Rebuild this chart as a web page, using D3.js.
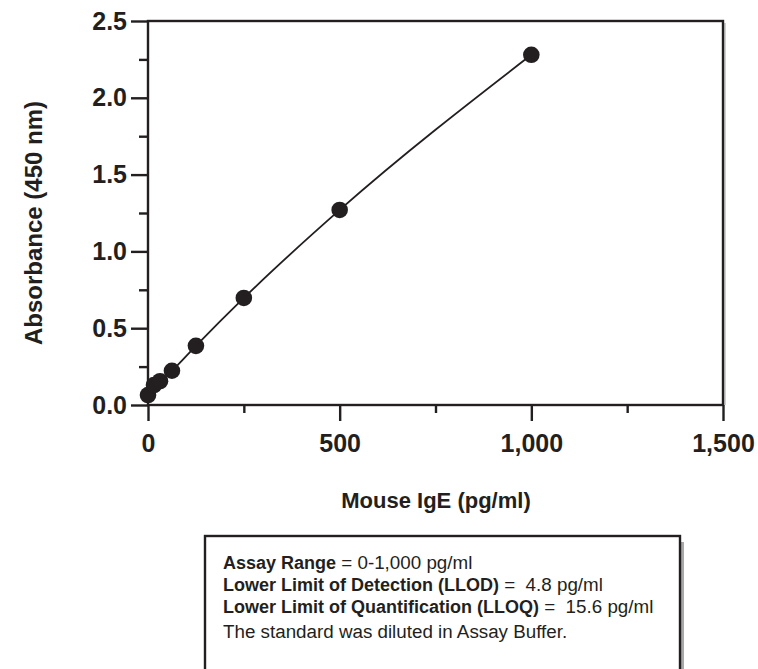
<!DOCTYPE html>
<html>
<head>
<meta charset="utf-8">
<script src="https://cdn.jsdelivr.net/npm/d3@7"></script>
<style>
  body { margin: 0; background: #fff; }
  svg text { font-family: "Liberation Sans", Arial, Helvetica, sans-serif; fill: #231f20; }
</style>
</head>
<body>
<div class="svg_container"></div>
<script>
// Standard curve values
var concentrations = [0, 15.6, 31.3, 62.5, 125, 250, 500, 1000];
var absorbances = [0.065, 0.13, 0.155, 0.223, 0.385, 0.697, 1.27, 2.28];

var xMajorTicks = [0, 500, 1000, 1500];
var xMinorTicks = [250, 750, 1250];
var yMajorTicks = [0, 0.5, 1.0, 1.5, 2.0, 2.5];
var yMinorTicks = [0.25, 0.75, 1.25, 1.75, 2.25];

var boxLines = [
  ["Assay Range", " = 0-1,000 pg/ml"],
  ["Lower Limit of Detection (LLOD)", " =  4.8 pg/ml"],
  ["Lower Limit of Quantification (LLOQ)", " =  15.6 pg/ml"],
  ["", "The standard was diluted in Assay Buffer."]
];

var W = 758, H = 669;
var INK = "#231f20";

var svg = d3.select("div.svg_container")
  .append("svg")
    .attr("width", W)
    .attr("height", H);

var x = d3.scaleLinear().domain([0, 1500]).range([148, 723]);
var y = d3.scaleLinear().domain([0, 2.5]).range([405, 21]);

// Plot frame with a faint shadow on the right
svg.append("line")
  .attr("x1", x(1500) + 2).attr("x2", x(1500) + 2)
  .attr("y1", y(2.5) + 2).attr("y2", y(0))
  .attr("stroke", "#b0b0b0").attr("stroke-width", 1.2);
svg.append("rect")
  .attr("x", x(0)).attr("y", y(2.5))
  .attr("width", x(1500) - x(0)).attr("height", y(0) - y(2.5))
  .attr("fill", "none").attr("stroke", INK).attr("stroke-width", 2.4);

// Y axis: major ticks with labels, minor ticks without
svg.append("g")
  .attr("transform", "translate(" + x(0) + ",0)")
  .call(d3.axisLeft(y).tickValues(yMajorTicks).tickSize(17).tickPadding(4)
    .tickFormat(d3.format(".1f")));
svg.append("g")
  .attr("transform", "translate(" + x(0) + ",0)")
  .call(d3.axisLeft(y).tickValues(yMinorTicks).tickSize(9).tickFormat(""));

// X axis
svg.append("g")
  .attr("transform", "translate(0," + y(0) + ")")
  .call(d3.axisBottom(x).tickValues(xMajorTicks).tickSize(16).tickPadding(13)
    .tickFormat(d3.format(",")));
svg.append("g")
  .attr("transform", "translate(0," + y(0) + ")")
  .call(d3.axisBottom(x).tickValues(xMinorTicks).tickSize(8).tickFormat(""));

svg.selectAll(".domain").remove();
svg.selectAll(".tick line").attr("stroke", INK).attr("stroke-width", 2.4);
svg.selectAll(".tick text")
  .style("font-size", "25px")
  .style("font-weight", "bold")
  .attr("fill", INK);

// Axis titles
svg.append("text")
  .attr("x", 436).attr("y", 508)
  .attr("text-anchor", "middle")
  .style("font-size", "22px").style("font-weight", "bold")
  .text("Mouse IgE (pg/ml)");

svg.append("text")
  .attr("transform", "translate(42,223) rotate(-90)")
  .attr("text-anchor", "middle")
  .style("font-size", "24px").style("font-weight", "bold")
  .text("Absorbance (450 nm)");

// Fitted curve and points
var points = concentrations.map(function(c, i) { return [c, absorbances[i]]; });

var line = d3.line()
  .x(function(d) { return x(d[0]); })
  .y(function(d) { return y(d[1]); })
  .curve(d3.curveMonotoneX);

svg.append("path")
  .datum(points)
  .attr("d", line)
  .attr("fill", "none")
  .attr("stroke", INK)
  .attr("stroke-width", 1.8);

svg.selectAll("circle.dot")
  .data(points)
  .enter()
  .append("circle")
    .attr("class", "dot")
    .attr("cx", function(d) { return x(d[0]); })
    .attr("cy", function(d) { return y(d[1]); })
    .attr("r", 8.3)
    .attr("fill", INK);

// Info box with shadow
var box = svg.append("g");
box.append("rect")
  .attr("x", 209).attr("y", 542)
  .attr("width", 475).attr("height", 160)
  .attr("fill", "#a8a8a8");
box.append("rect")
  .attr("x", 205).attr("y", 536)
  .attr("width", 475).attr("height", 160)
  .attr("fill", "#fff").attr("stroke", INK).attr("stroke-width", 2.4);

var baselines = [569, 591, 613, 638];
boxLines.forEach(function(parts, i) {
  var t = box.append("text")
    .attr("x", 223).attr("y", baselines[i])
    .style("font-size", "18.8px")
    .style("white-space", "pre")
    .attr("xml:space", "preserve");
  if (parts[0]) t.append("tspan").style("font-weight", "bold").style("font-size", "18px").text(parts[0]);
  t.append("tspan").text(parts[1]);
});
</script>
</body>
</html>
